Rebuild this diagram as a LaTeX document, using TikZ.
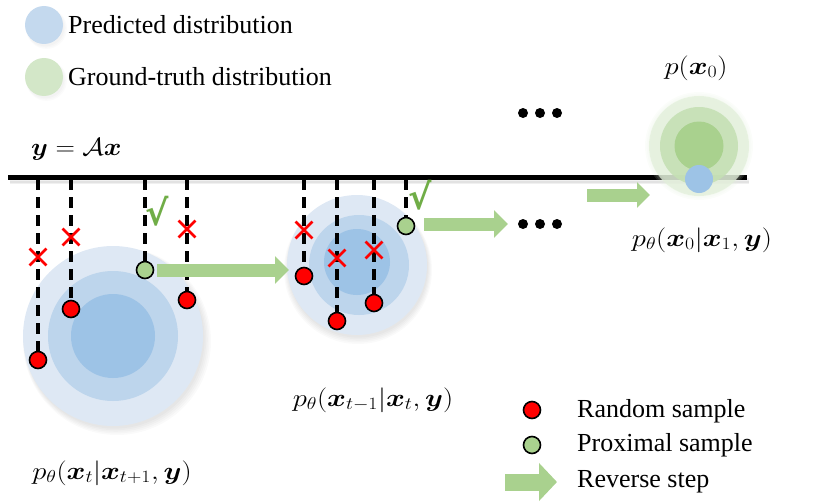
\documentclass[tikz,border=0pt]{standalone}
\usepackage{amsmath,bm}
\usepackage{fontspec}
\setmainfont{Liberation Serif}
\newfontfamily\symfont{DejaVu Sans}
\usetikzlibrary{arrows.meta,shapes.misc}
\definecolor{bOut}{HTML}{DEE8F4}
\definecolor{bMid}{HTML}{BDD5EC}
\definecolor{bIn}{HTML}{9DC3E6}
\definecolor{gOut}{HTML}{E2EFDA}
\definecolor{gMid}{HTML}{C5E0B4}
\definecolor{gIn}{HTML}{A9D18E}
\definecolor{arrG}{HTML}{A9D18E}
\definecolor{chkG}{HTML}{70AD47}
\definecolor{legB}{HTML}{C4D9EE}
\definecolor{legG}{HTML}{D3E7C8}
\newcommand{\mlab}[1]{\scalebox{1.15}[1]{#1}}
\begin{document}
\begin{tikzpicture}[x=1pt,y=-1pt,
  rdot/.style={circle,draw=black,line width=1.6pt,fill=red,minimum size=17pt,inner sep=0pt},
  gdot/.style={circle,draw=black,line width=1.6pt,fill=gIn,minimum size=17pt,inner sep=0pt},
  dline/.style={line width=3.4pt,dash pattern=on 11pt off 7pt},
  xmk/.style={cross out,draw=red,line width=2.8pt,minimum size=14pt,inner sep=0pt},
  chk/.style={text=chkG,font=\symfont\bfseries\fontsize{35}{37}\selectfont,inner sep=0pt},
  revarrow/.style={arrG,line width=13pt,-{Triangle[length=14pt,width=27pt]}},
  lbl/.style={font=\fontsize{27}{30}\selectfont,inner sep=0pt},
  txt/.style={font=\fontsize{26}{30}\selectfont,anchor=west,inner sep=0pt},
  bigdot/.style={circle,fill=black,minimum size=10pt,inner sep=0pt}
]
\useasboundingbox (0,0) rectangle (830,503);

% legend top
\foreach \k in {1,...,3} \fill[black,opacity=0.015] (45+0.5*\k,27+0.5*\k) circle (18+\k*0.8);
\foreach \k in {1,...,3} \fill[black,opacity=0.015] (45+0.5*\k,79+0.5*\k) circle (18+\k*0.8);
\node[circle,fill=legB,minimum size=38pt,inner sep=0pt] (lb) at (44,25) {};
\node[circle,fill=legG,minimum size=38pt,inner sep=0pt] (lg) at (44,77) {};
\node[txt] (tb) at (68,25) {Predicted distribution};
\node[txt] (tg) at (68,77) {Ground-truth distribution};

% observation line
\node[lbl,anchor=west] (yax) at (31,149) {\scalebox{1.08}[1]{$\bm{y}=\mathcal{A}\bm{x}$}};
\foreach \k in {1,...,4} \draw[black,opacity=0.06,line width=2pt] (10,178+\k*1.3) -- (749,178+\k*1.3);
\coordinate (L0) at (8,177);
\coordinate (L1) at (747,177);
\draw[line width=5pt] (L0) -- (L1);

% circle 1
\foreach \k in {1,...,5} \fill[black,opacity=0.018] (114+0.6*\k,338+0.6*\k) circle (89+\k);
\fill[bOut] (113,336) circle (90);
\fill[bMid] (113,336) circle (65);
\fill[bIn] (113,336) circle (42);

% circle 2
\foreach \k in {1,...,5} \fill[black,opacity=0.018] (358,267+0.6*\k) circle (69+\k);
\fill[bOut] (357,265) circle (70);
\fill[bMid] (359,265) circle (50);
\fill[bIn] (357,262) circle (33);

% final distribution
\foreach \k in {1,...,5} \fill[gOut,opacity=0.12] (699,146) circle (46+\k*1.6);
\fill[gOut,opacity=0.75] (699,146) circle (50);
\fill[gMid,opacity=0.9] (699,146) circle (39);
\fill[gIn] (699,146) circle (24.5);
\node[circle,fill=bIn,minimum size=28pt,inner sep=0pt] (fin) at (699,179) {};

% samples circle 1
\node[rdot] (r1) at (38,360) {};
\node[rdot] (r2) at (71,309) {};
\node[gdot] (g1) at (145,270) {};
\node[rdot] (r3) at (187,300) {};
\foreach \n/\x in {r1/38,r2/71,g1/145,r3/187} {
  \coordinate (t\n) at (\x,179);
  \draw[dline] (t\n) -- (\n.north);
}
\node[xmk] (x1) at (38,257) {};
\node[xmk] (x2) at (71,237) {};
\node[xmk] (x3) at (187,229) {};
\node[chk] (c1) at (157,211) {√};

% samples circle 2
\node[rdot] (s1) at (304,276) {};
\node[rdot] (s2) at (337,321) {};
\node[rdot] (s3) at (374,303) {};
\node[gdot] (g2) at (406,226) {};
\foreach \n/\x in {s1/304,s2/337,s3/374,g2/406} {
  \coordinate (t\n) at (\x,179);
  \draw[dline] (t\n) -- (\n.north);
}
\node[xmk] (y1) at (304,230) {};
\node[xmk] (y2) at (337,258) {};
\node[xmk] (y3) at (374,250) {};
\node[chk] (c2) at (420,195) {√};

% reverse steps
\coordinate (a1s) at (157,270);
\coordinate (a1e) at (289,270);
\draw[revarrow] (a1s) -- (a1e);
\coordinate (a2s) at (424,224);
\coordinate (a2e) at (508,224);
\draw[revarrow] (a2s) -- (a2e);
\coordinate (a3s) at (587,195);
\coordinate (a3e) at (650,195);
\draw[revarrow,-{Triangle[length=13pt,width=25pt]}] (a3s) -- (a3e);

% ellipses
\foreach \x [count=\i] in {523,540,557} {
  \node[bigdot] (d\i) at (\x,224) {};
  \node[bigdot] (u\i) at (\x,113) {};
}

% labels
\node[lbl] (p0) at (696,68) {\mlab{$p(\bm{x}_0)$}};
\node[lbl] (pf) at (702,240) {\mlab{$p_\theta(\bm{x}_0|\bm{x}_1,\bm{y})$}};
\node[lbl] (pm) at (373,400) {\mlab{$p_\theta(\bm{x}_{t-1}|\bm{x}_t,\bm{y})$}};
\node[lbl] (pb) at (112,473) {\mlab{$p_\theta(\bm{x}_t|\bm{x}_{t+1},\bm{y})$}};

% legend bottom
\node[rdot] (lr) at (532,410) {};
\node[gdot] (lgd) at (532,445) {};
\coordinate (las) at (505,482);
\coordinate (lae) at (557,482);
\draw[arrG,line width=17pt,-{Triangle[length=18pt,width=37pt]}] (las) -- (lae);
\node[txt] (tr) at (577,411) {Random sample};
\node[txt] (tp) at (577,445) {Proximal sample};
\node[txt] (ts) at (577,482) {Reverse step};
\end{tikzpicture}
\end{document}
